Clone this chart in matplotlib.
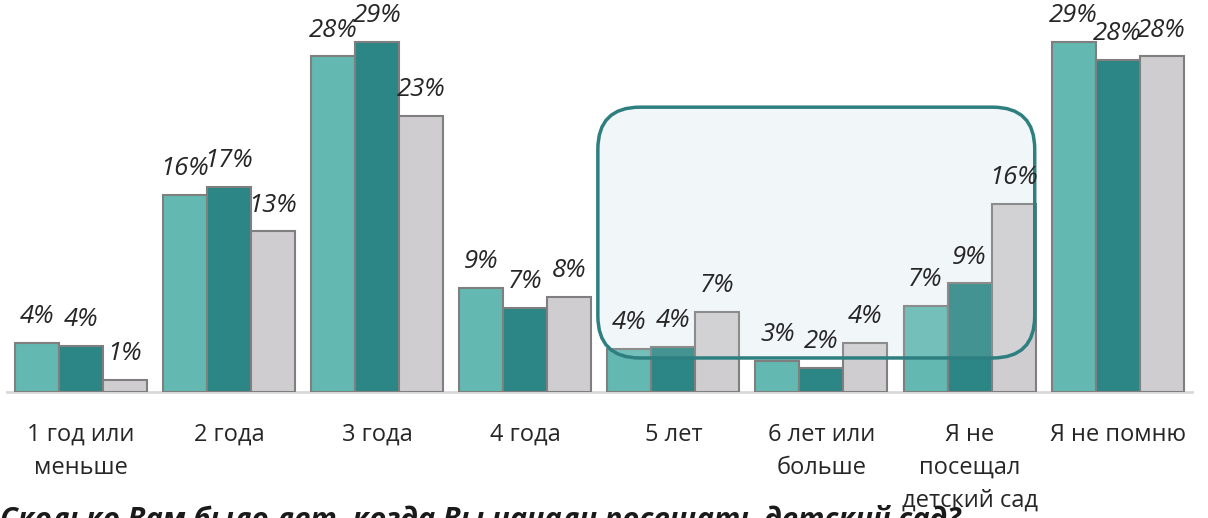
import matplotlib.pyplot as plt
from matplotlib.patches import FancyBboxPatch
from matplotlib.transforms import IdentityTransform
import numpy as np

# answer categories (x axis)
categories = ["1 год или\nменьше", "2 года", "3 года", "4 года", "5 лет",
              "6 лет или\nбольше", "Я не\nпосещал\nдетский сад", "Я не помню"]
# three series, percent
series1 = [4.1, 16.3, 27.8, 8.6, 3.6, 2.6, 7.1, 29.0]
series2 = [3.8, 17.0, 29.0, 7.0, 3.7, 2.0, 9.0, 27.5]
series3 = [1.0, 13.3, 22.9, 7.9, 6.6, 4.1, 15.6, 27.8]
colors = ["#64b8b2", "#2c8685", "#cfcdcf"]
caption = "Сколько Вам было лет, когда Вы начали посещать детский сад?"

W, H = 1208, 518
fig = plt.figure(figsize=(W / 100, H / 100), dpi=100)
ax = fig.add_axes([0, 126 / H, 1, 392 / H])

x = np.arange(len(categories))
bw = 0.297
for i, (vals, col) in enumerate(zip([series1, series2, series3], colors)):
    pos = x + (i - 1) * bw
    ax.bar(pos, vals, width=bw, color=col, edgecolor="#7f7f7f", linewidth=1.5, zorder=2)
    for px, v in zip(pos, vals):
        ax.text(px, v + 1.15, f"{round(v)}%", ha="center", va="bottom",
                fontsize=18.5, style="italic", color="#262626",
                family="Open Sans", zorder=6, clip_on=False)

ax.plot([-0.5, len(categories) - 0.5], [0, 0], color="#d9d9d9", lw=2, zorder=1,
        clip_on=False)

ax.set_xlim(-0.547, 7.61)
ax.set_ylim(0, 32.48)
ax.set_xticks(x)
ax.set_xticklabels(categories, fontsize=17, color="#262626", family="Open Sans",
                   linespacing=1.5)
ax.tick_params(axis="x", length=0, pad=22)
ax.set_yticks([])
for s in ax.spines.values():
    s.set_visible(False)

# highlight box around "5 лет" .. "Я не посещал"
fig.canvas.draw()
x0, y0 = ax.transData.transform((3.49, 2.82))
x1, y1 = ax.transData.transform((6.44, 23.6))
style = "round,pad=0,rounding_size=42"
back = FancyBboxPatch((x0, y0), x1 - x0, y1 - y0, boxstyle=style,
                      facecolor="#f2f7f9", edgecolor="none",
                      transform=IdentityTransform(), zorder=1.5, clip_on=False)
shade = FancyBboxPatch((x0, y0), x1 - x0, y1 - y0, boxstyle=style,
                       facecolor="#eaf2f5", alpha=0.12, edgecolor="none",
                       transform=IdentityTransform(), zorder=3, clip_on=False)
edge = FancyBboxPatch((x0, y0), x1 - x0, y1 - y0, boxstyle=style,
                      facecolor="none", edgecolor="#2e7f80", linewidth=2.5,
                      transform=IdentityTransform(), zorder=4, clip_on=False)
for p in (back, shade, edge):
    ax.add_artist(p)

fig.text(0.0, 13 / H, caption, fontsize=21, style="italic", weight="bold",
         color="#1a1a1a", family="Open Sans", va="top", ha="left")

fig.savefig("out.png", dpi=100)
